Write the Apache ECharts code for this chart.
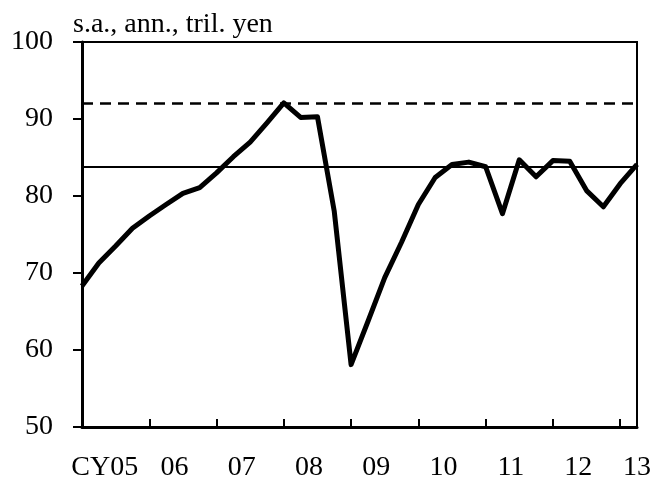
<!DOCTYPE html>
<html>
<head>
<meta charset="utf-8">
<script src="https://cdn.jsdelivr.net/npm/echarts@6/dist/echarts.min.js"></script>
<style>html,body{margin:0;padding:0;background:#fff}#c{width:665px;height:483px}</style>
</head>
<body>
<div id="c"></div>
<script>
// Quarterly values, CY2005 Q1 .. CY2013 Q2 (s.a., ann., tril. yen)
var quarterIndex = [0,1,2,3,4,5,6,7,8,9,10,11,12,13,14,15,16,17,18,19,20,21,22,23,24,25,26,27,28,29,30,31,32,33];
var values = [68.3,71.3,73.5,75.8,77.4,78.9,80.35,81.1,83.0,85.1,87.0,89.5,92.1,90.2,90.3,78.0,58.1,63.7,69.4,74.0,78.9,82.4,84.1,84.4,83.8,77.7,84.7,82.5,84.6,84.5,80.7,78.6,81.6,84.1];
var peakLevel = 92.1;     // dashed line
var averageLevel = 83.8;  // solid line
var yearTickPos = [4,8,12,16,20,24,28,32];
var yearLabelPos = [1.35,5.5,9.5,13.5,17.5,21.5,25.5,29.5,33];
var yearLabels = ['CY05','06','07','08','09','10','11','12','13'];
var yTicks = [50,60,70,80,90,100];

var font = 'Liberation Serif, Times New Roman, serif';
var chart = echarts.init(document.getElementById('c'), null, {renderer:'canvas'});
var lineData = quarterIndex.map(function(q,i){return [q, values[i]];});
chart.setOption({
  animation:false,
  title:{text:'s.a., ann., tril. yen', left:68, top:6,
    textStyle:{fontFamily:font, fontSize:28, fontWeight:'normal', color:'#000'}},
  grid:{left:82, right:28, top:42, bottom:56, show:true, borderColor:'#000', borderWidth:2, backgroundColor:'transparent'},
  xAxis:{type:'value', min:0, max:33,
    axisLine:{show:true, onZero:false, lineStyle:{color:'#000', width:3}},
    axisTick:{show:true, inside:true, length:8, customValues:yearTickPos, lineStyle:{color:'#000', width:2}},
    axisLabel:{show:true, customValues:yearLabelPos, margin:27, color:'#000', fontFamily:font, fontSize:28,
      formatter:function(v){var i=yearLabelPos.indexOf(v);return i>=0?yearLabels[i]:'';}},
    splitLine:{show:false}},
  yAxis:{type:'value', min:50, max:100, interval:10,
    axisLine:{show:true, lineStyle:{color:'#000', width:3}},
    axisTick:{show:true, inside:false, length:9, lineStyle:{color:'#000', width:2}},
    axisLabel:{margin:29, color:'#000', fontFamily:font, fontSize:28,
      formatter:function(v){return yTicks.indexOf(v)>=0?String(v):'';}},
    splitLine:{show:false}},
  series:[{type:'line', data:lineData, symbol:'none', lineStyle:{color:'#000', width:5, join:'round'}, z:5,
    markLine:{silent:true, symbol:['none','none'], label:{show:false},
      data:[
        {yAxis:peakLevel, lineStyle:{color:'#000', width:2.5, type:[11,7]}},
        {yAxis:averageLevel, lineStyle:{color:'#000', width:2, type:'solid'}}
      ]}}]
});
</script>
</body>
</html>
